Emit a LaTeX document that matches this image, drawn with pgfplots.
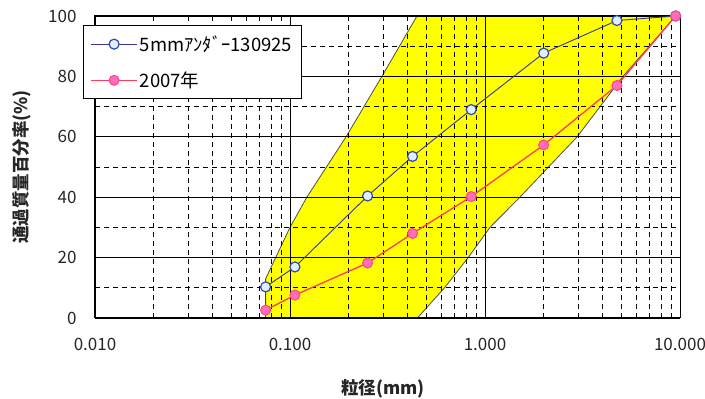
\documentclass[border=0pt]{standalone}
\usepackage{pgfplots}
\pgfplotsset{compat=1.18}
\usepackage{fontspec}
\setmainfont{Noto Sans CJK JP}
\definecolor{yfill}{RGB}{255,255,0}
\definecolor{bline}{RGB}{55,55,140}
\definecolor{bfill}{RGB}{225,240,255}
\definecolor{bedge}{RGB}{50,70,180}
\definecolor{rline}{RGB}{255,60,90}
\definecolor{rfill}{RGB}{255,110,190}
\definecolor{redge}{RGB}{255,70,130}
\begin{document}
\begin{tikzpicture}
\begin{axis}[
  set layers,
  scale only axis,
  width=585pt, height=302pt,
  xmode=log, log basis x=10,
  xmin=0.01, xmax=10, ymin=0, ymax=100,
  xtick={0.01,0.1,1,10},
  xticklabels={0.010,0.100,1.000,10.000},
  minor xtick={0.02,0.03,0.04,0.05,0.06,0.07,0.08,0.09,
               0.2,0.3,0.4,0.5,0.6,0.7,0.8,0.9,
               2,3,4,5,6,7,8,9},
  ytick={0,20,40,60,80,100},
  minor ytick={10,30,50,70,90},
  major tick length=0pt, minor tick length=0pt,
  grid=both,
  major grid style={black, line width=0.9pt},
  minor grid style={black, line width=0.9pt, dash pattern=on 5pt off 4pt},
  axis line style={black, line width=1pt},
  /pgf/number format/assume math mode=true,
  tick label style={font=\fontsize{17}{19}\selectfont, text=black!85},
  xticklabel style={yshift=-17pt},
  yticklabel style={xshift=-15pt},
  xlabel={粒径(mm)},
  ylabel={通過質量百分率(\%)},
  label style={font=\fontsize{17.5}{19}\selectfont\bfseries, text=black!85},
  x label style={at={(axis description cs:0.492,-0.233)}, anchor=center},
  y label style={at={(axis description cs:-0.125,0.5)}, anchor=center},
  legend style={at={(axis description cs:-0.0205,0.97)}, anchor=north west,
    draw=black, line width=0.9pt, fill=white, font=\fontsize{18.5}{20}\selectfont,
    row sep=15pt, inner xsep=7pt, inner ysep=8pt},
  legend cell align=left,
  legend image code/.code={%
    \draw[mark repeat=2, mark phase=2, #1] plot coordinates {(0pt,0pt) (23pt,0pt) (46pt,0pt)};},
  clip=false,
]
\addplot[on layer=axis background, fill=yfill, draw=black!70, line width=0.8pt, forget plot]
 coordinates {(0.075,0) (0.075,13) (0.1,30) (0.122,40) (0.194,60) (0.296,80) (0.448,100)
   (9.5,100) (5.1,80) (2.97,60) (1.51,40) (1.06,30) (0.82,20) (0.62,10) (0.45,0)} -- cycle;
\addplot[bline, line width=0.9pt, mark=*, mark size=5pt,
  mark options={fill=bfill, draw=bedge, line width=1.2pt}]
 coordinates {(0.075,10.3) (0.106,16.9) (0.25,40.4) (0.425,53.5) (0.85,69) (2,87.7) (4.75,98.5) (9.5,100)};
\addlegendentry{5mmｱﾝﾀﾞｰ130925}
\addplot[rline, line width=1.3pt, mark=*, mark size=5pt,
  mark options={fill=rfill, draw=redge, line width=1pt}]
 coordinates {(0.075,2.6) (0.106,7.6) (0.25,18.2) (0.425,28) (0.85,40.2) (2,57.3) (4.75,77) (9.5,100)};
\addlegendentry{2007年}
\coordinate (sw) at (rel axis cs:0,0);
\coordinate (ne) at (rel axis cs:1,1);
\end{axis}
\pgfresetboundingbox
\path ([shift={(-95pt,-81pt)}]sw) rectangle ([shift={(25pt,16pt)}]ne);
\end{tikzpicture}
\end{document}
